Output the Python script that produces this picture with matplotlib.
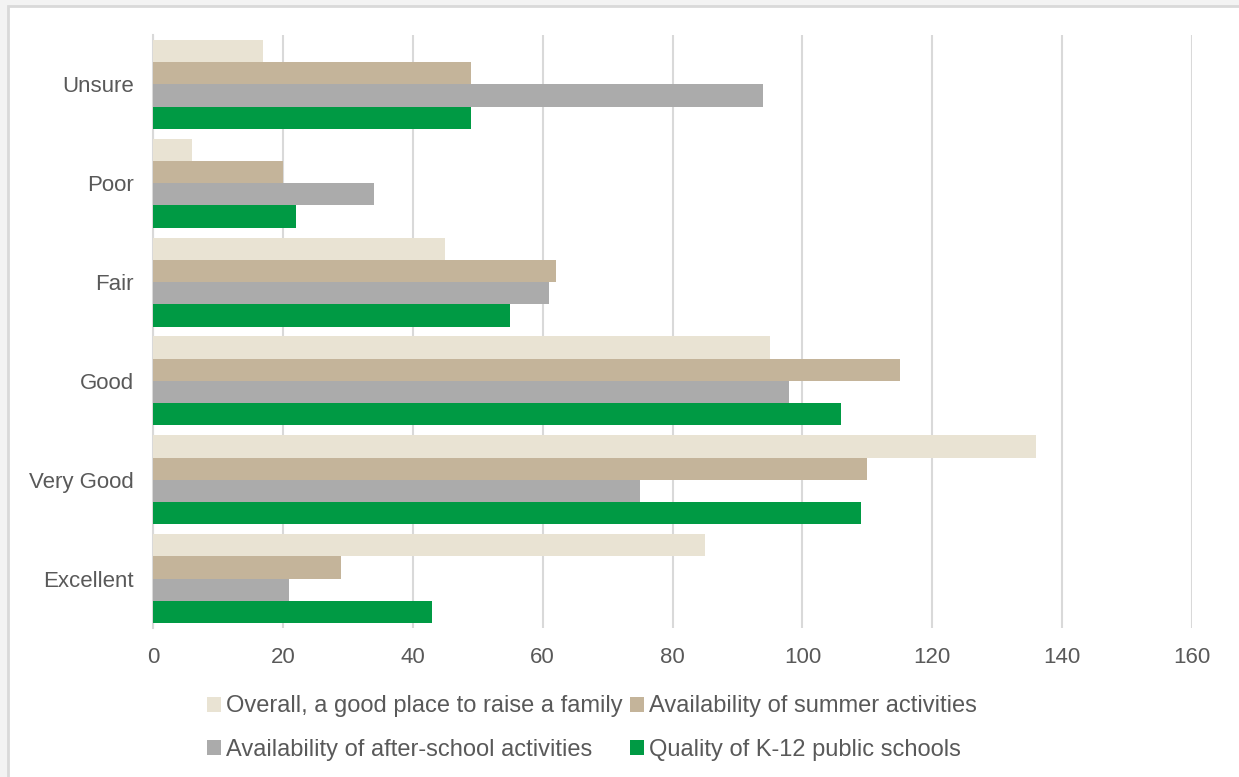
import matplotlib.pyplot as plt
import matplotlib.patches as mpatches
import numpy as np

plt.rcParams['font.family'] = ['Liberation Sans', 'DejaVu Sans']

# categories bottom to top
categories = ["Excellent", "Very Good", "Good", "Fair", "Poor", "Unsure"]
series_names = [
    "Overall, a good place to raise a family",
    "Availability of summer activities",
    "Availability of after-school activities",
    "Quality of K-12 public schools",
]
overall = [85, 136, 95, 45, 6, 17]
summer = [29, 110, 115, 62, 20, 49]
after_school = [21, 75, 98, 61, 34, 94]
k12 = [43, 109, 106, 55, 22, 49]
colors = ["#E9E3D3", "#C4B49A", "#ABABAB", "#009A44"]

values = [overall, summer, after_school, k12]

fig = plt.figure(figsize=(12.39, 7.77), dpi=100, facecolor="#f3f3f3")
# white chart area with light border
fig.patches.append(mpatches.Rectangle((8 / 1239, -0.01), 1.0, 1 - 6 / 777 + 0.01,
                                      transform=fig.transFigure, facecolor="white",
                                      edgecolor="#d9d9d9", linewidth=2, zorder=-5))

ax = fig.add_axes([153 / 1239, 1 - 628 / 777, (1192 - 153) / 1239, (628 - 35) / 777])
ax.set_facecolor("none")

y = np.arange(len(categories))
h = 0.225
offsets = [1.5 * h, 0.5 * h, -0.5 * h, -1.5 * h]
for vals, name, c, off in zip(values, series_names, colors, offsets):
    ax.barh(y + off, vals, height=h, color=c, label=name, zorder=3)

ax.set_xlim(0, 160)
ax.set_ylim(-0.5, 5.5)
ax.set_xticks(np.arange(0, 161, 20))
ax.set_yticks(y)
ax.set_yticklabels(categories)
ax.tick_params(axis="both", length=0, labelsize=16, labelcolor="#595959")
ax.tick_params(axis="x", pad=14)
ax.tick_params(axis="y", pad=14)
ax.grid(axis="x", color="#d9d9d9", linewidth=1.5, zorder=0)
for s in ["top", "right", "bottom"]:
    ax.spines[s].set_visible(False)
ax.spines["left"].set_color("#d9d9d9")
ax.spines["left"].set_linewidth(1.5)

# row-wise legend order
handles, labels = ax.get_legend_handles_labels()
order = [0, 2, 1, 3]
fig.legend([handles[i] for i in order], [labels[i] for i in order],
           loc="center", bbox_to_anchor=(592 / 1239, 1 - 728 / 777),
           ncol=2, frameon=False, fontsize=17, labelcolor="#595959",
           handlelength=0.6, handleheight=0.6, handletextpad=0.2,
           columnspacing=0.3, labelspacing=0.9)

fig.savefig("out.png", dpi=100, facecolor=fig.get_facecolor())
